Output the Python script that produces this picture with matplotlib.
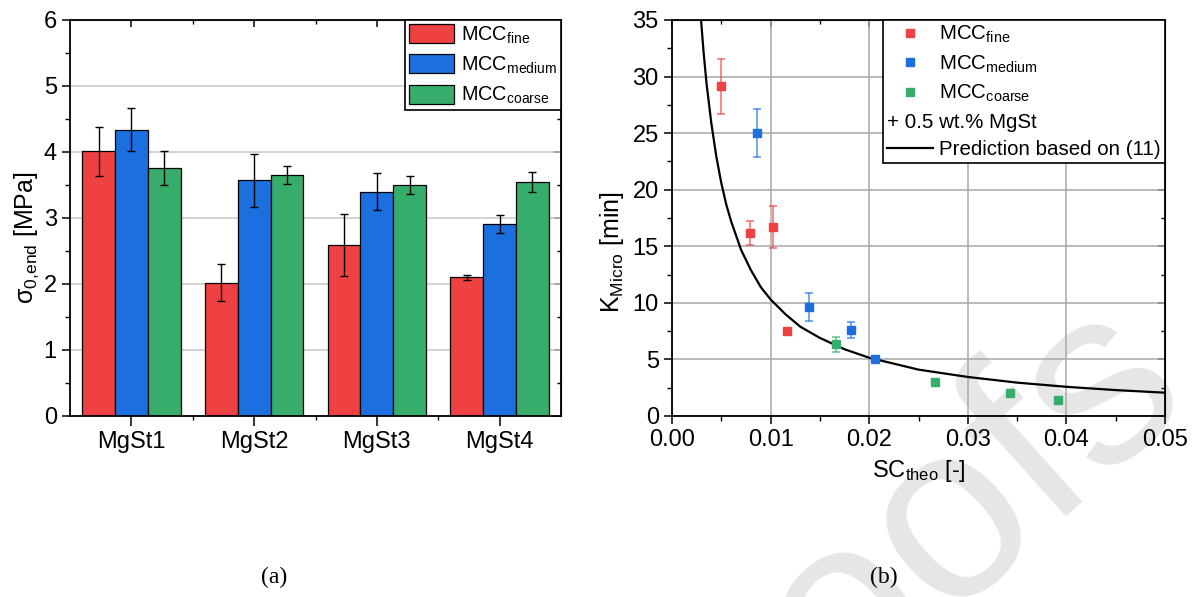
import numpy as np
import matplotlib
matplotlib.use("Agg")
import matplotlib.pyplot as plt
from matplotlib.lines import Line2D
from matplotlib.ticker import MultipleLocator, FormatStrFormatter

plt.rcParams['font.family'] = ['Liberation Sans', 'DejaVu Sans']
plt.rcParams['mathtext.fontset'] = 'custom'
plt.rcParams['mathtext.rm'] = 'Liberation Sans'
plt.rcParams['mathtext.it'] = 'Liberation Sans'
plt.rcParams['mathtext.bf'] = 'Liberation Sans:bold'

# ---- data: panel (a) ----
groups = ['MgSt1', 'MgSt2', 'MgSt3', 'MgSt4']
sig_fine = [4.01, 2.02, 2.59, 2.10]
sig_fine_err = [0.37, 0.28, 0.47, 0.04]
sig_medium = [4.34, 3.57, 3.40, 2.91]
sig_medium_err = [0.32, 0.40, 0.28, 0.13]
sig_coarse = [3.76, 3.65, 3.50, 3.55]
sig_coarse_err = [0.26, 0.14, 0.13, 0.15]

# ---- data: panel (b) ----
sc_fine = [0.00502, 0.00796, 0.01028, 0.01168]
k_fine = [29.14, 16.18, 16.68, 7.51]
k_fine_err = [2.45, 1.05, 1.87, 0.0]
sc_medium = [0.00867, 0.01393, 0.01814, 0.02056]
k_medium = [25.01, 9.66, 7.60, 5.01]
k_medium_err = [2.15, 1.23, 0.72, 0.0]
sc_coarse = [0.0166, 0.02667, 0.03432, 0.03919]
k_coarse = [6.33, 3.03, 2.03, 1.41]
k_coarse_err = [0.63, 0.0, 0.0, 0.0]

# prediction curve
sc_pred = [0.0029, 0.0032, 0.0035, 0.0040, 0.0045, 0.0050, 0.0055, 0.0060,
           0.0070, 0.0080, 0.0090, 0.0100, 0.0115, 0.0130, 0.0150, 0.0175,
           0.0200, 0.0250, 0.0300, 0.0350, 0.0400, 0.0450, 0.0500]
k_pred = [35.5, 32.2, 29.4, 25.8, 22.9, 20.6, 18.7, 17.2,
          14.7, 12.9, 11.4, 10.3, 9.0, 7.9, 6.9, 5.9,
          5.15, 4.1, 3.45, 2.95, 2.58, 2.29, 2.06]

c_red = '#EF4141'
c_blue = '#1B6FDF'
c_green = '#37AD6B'
lab_fine = r'$\mathregular{MCC_{fine}}$'
lab_medium = r'$\mathregular{MCC_{medium}}$'
lab_coarse = r'$\mathregular{MCC_{coarse}}$'

fig = plt.figure(figsize=(11.98, 5.97), dpi=100)
ax1 = fig.add_axes([70/1198, 181/597, 491/1198, 396/597])
ax2 = fig.add_axes([672/1198, 181/597, 493/1198, 396/597])
for ax in (ax1, ax2):
    ax.set_facecolor('none')

# watermark
fig.text(878/1198, 1 - 580/597, 'Proofs', fontsize=180, color='#e6e6e6', rotation=42,
         ha='center', va='center', zorder=-5)

# ---------------- panel (a) ----------------
x = np.arange(len(groups))
w = 0.267
ekw = dict(elinewidth=1.0, capthick=1.0, ecolor='black')
ax1.bar(x - w, sig_fine, w, yerr=sig_fine_err, color=c_red, edgecolor='black',
        linewidth=0.9, capsize=3, error_kw=ekw, label=lab_fine)
ax1.bar(x, sig_medium, w, yerr=sig_medium_err, color=c_blue, edgecolor='black',
        linewidth=0.9, capsize=3, error_kw=ekw, label=lab_medium)
ax1.bar(x + w, sig_coarse, w, yerr=sig_coarse_err, color=c_green, edgecolor='black',
        linewidth=0.9, capsize=3, error_kw=ekw, label=lab_coarse)
ax1.set_xlim(-0.5, 3.5)
ax1.set_ylim(0, 6)
ax1.set_xticks(x)
ax1.set_xticklabels(groups)
ax1.set_xticks([0.5, 1.5, 2.5], minor=True)
ax1.yaxis.set_major_locator(MultipleLocator(1))
ax1.yaxis.set_minor_locator(MultipleLocator(0.5))
ax1.set_axisbelow(True)
ax1.yaxis.grid(True, color='#c8c8c8', linewidth=1.1)
ax1.set_ylabel(r'$\mathregular{σ_{0{,}end}}$ [MPa]', fontsize=18)
ax1.yaxis.label.set_va('center')
ax1.yaxis.set_label_coords(-0.088, 0.45)

leg1 = ax1.legend(loc='upper right', borderaxespad=0, fontsize=14.3,
                  fancybox=False, edgecolor='black', framealpha=1,
                  handlelength=2.26, handleheight=1.1, handletextpad=0.34,
                  borderpad=0.2, labelspacing=0.44)
leg1.get_frame().set_linewidth(1.2)

# ---------------- panel (b) ----------------
ax2.set_axisbelow(True)
ax2.grid(True, which='major', color='#a8a8a8', linewidth=1.1)
ax2.plot(sc_pred, k_pred, color='black', linewidth=1.6, zorder=2)
for sc, k, ke, col in [(sc_fine, k_fine, k_fine_err, c_red),
                       (sc_medium, k_medium, k_medium_err, c_blue),
                       (sc_coarse, k_coarse, k_coarse_err, c_green)]:
    ax2.errorbar(sc, k, yerr=ke, fmt='none', ecolor=col, alpha=0.7,
                 elinewidth=1.2, capsize=3.2, capthick=1.2, zorder=3)
    ax2.plot(sc, k, 's', color=col, markersize=6.2, zorder=4)
ax2.set_xlim(0, 0.05)
ax2.set_ylim(0, 35)
ax2.xaxis.set_major_locator(MultipleLocator(0.01))
ax2.xaxis.set_minor_locator(MultipleLocator(0.005))
ax2.xaxis.set_major_formatter(FormatStrFormatter('%.2f'))
ax2.yaxis.set_major_locator(MultipleLocator(5))
ax2.yaxis.set_minor_locator(MultipleLocator(2.5))
ax2.set_xlabel(r'$\mathregular{SC_{theo}}$ [-]', fontsize=17)
ax2.set_ylabel(r'$\mathregular{K_{Micro}}$ [min]', fontsize=18)
ax2.yaxis.label.set_va('center')
ax2.yaxis.set_label_coords(-0.122, 0.415)
ax2.xaxis.set_label_coords(0.5, -0.105)

handles = [Line2D([], [], marker='s', ls='none', color=c_red, markersize=6.2),
           Line2D([], [], marker='s', ls='none', color=c_blue, markersize=6.2),
           Line2D([], [], marker='s', ls='none', color=c_green, markersize=6.2),
           Line2D([], [], ls='none'),
           Line2D([], [], color='black', linewidth=1.6)]
labels = [lab_fine, lab_medium, lab_coarse, '+ 0.5 wt.% MgSt', 'Prediction based on (11)']
leg2 = ax2.legend(handles, labels, loc='upper right', borderaxespad=0, fontsize=14.8,
                  fancybox=False, edgecolor='black', framealpha=1,
                  handlelength=2.25, handletextpad=0.3, borderpad=0.2,
                  labelspacing=0.4)
leg2.get_frame().set_linewidth(1.2)
leg2.get_texts()[3].set_alpha(0)

# ---- ticks: out on left/bottom, in on top/right ----
for ax in (ax1, ax2):
    ax.tick_params(which='major', direction='out', length=6, width=1.1, labelsize=17,
                   top=False, right=False)
    ax.tick_params(which='minor', direction='out', length=3.5, width=1.0,
                   top=False, right=False)
    for s in ax.spines.values():
        s.set_linewidth(1.3)
    sx = ax.secondary_xaxis('top')
    sx.set_xticks(ax.get_xticks(), labels=[])
    sx.set_xticks(ax.get_xticks(minor=True), minor=True)
    sx.tick_params(which='major', direction='in', length=5, width=1.1)
    sx.tick_params(which='minor', direction='in', length=3, width=1.0)
    sy = ax.secondary_yaxis('right')
    sy.set_yticks(ax.get_yticks(), labels=[])
    sy.set_yticks(ax.get_yticks(minor=True), minor=True)
    sy.tick_params(which='major', direction='in', length=5, width=1.1)
    sy.tick_params(which='minor', direction='in', length=3, width=1.0)
ax1.tick_params(axis='x', which='minor', length=3)
ax1.tick_params(axis='x', which='major', length=7)

# the "+ 0.5 wt.% MgSt" line starts at the legend's left edge
fig.canvas.draw()
tb = leg2.get_texts()[3].get_window_extent()
fb = leg2.get_frame().get_window_extent()
fig.text((fb.x0 + 4) / fig.bbox.width, (tb.y0 + tb.y1) / 2 / fig.bbox.height,
         '+ 0.5 wt.% MgSt', fontsize=14.8, va='center', ha='left', zorder=10)

fig.text(274/1198, 1 - 577/597, '(a)', fontsize=17, family='Liberation Serif',
         ha='center', va='center')
fig.text(884/1198, 1 - 577/597, '(b)', fontsize=17, family='Liberation Serif',
         ha='center', va='center')

fig.savefig('out.png', dpi=100, facecolor='white')
